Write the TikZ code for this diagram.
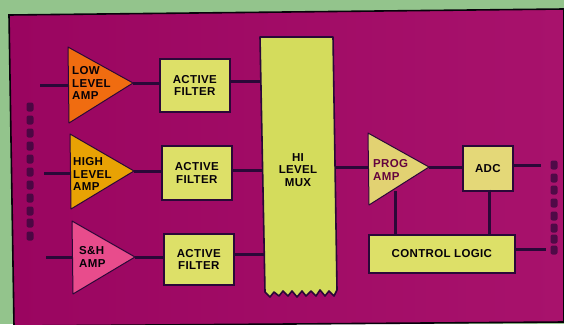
\documentclass[tikz,border=0pt]{standalone}
\usepackage{fontspec}
\setmainfont{Liberation Sans}[LetterSpace=3]
\usetikzlibrary{calc}
\definecolor{bgreen}{HTML}{93C48C}
\definecolor{panelm}{HTML}{9A0560}
\definecolor{panelr}{HTML}{A8126C}
\definecolor{inkd}{HTML}{2A0838}
\definecolor{boxy}{HTML}{DDE068}
\definecolor{muxy}{HTML}{D4DC5C}
\definecolor{adcy}{HTML}{E4D878}
\definecolor{ampo}{HTML}{F06C10}
\definecolor{ampg}{HTML}{E8A204}
\definecolor{ampp}{HTML}{E84C8C}
\definecolor{ampy}{HTML}{E2D272}
\tikzset{
 x=1pt,y=-1pt,
 lab/.style={font=\bfseries\fontsize{11.5}{12.5}\selectfont,text=black!85!inkd,align=center,inner sep=0},
 lablt/.style={lab,align=left},
 amp/.style={draw=inkd,line width=1pt,line join=round},
 boxn/.style={draw=inkd,line width=1.6pt,fill=boxy,lab,minimum width=70pt,minimum height=53pt,anchor=north west,inner sep=0},
 wire/.style={draw=inkd,line width=3pt},
 mark1/.style={draw=none,fill=inkd,opacity=.7,rounded corners=2pt,minimum width=7pt,minimum height=9pt,inner sep=0}
}
\begin{document}
\begin{tikzpicture}
\useasboundingbox (0,0) rectangle (564,324);
\fill[bgreen] (0,0) rectangle (564,324);
\shade[left color=panelm,right color=panelr,draw=black!80!inkd,line width=1.6pt]
  (9,15) -- (564,9) -- (564,322) -- (14,326) -- cycle;

% amplifiers
\coordinate (t1a) at (68,47); \coordinate (t1b) at (69,123); \coordinate (t1c) at (133,83);
\coordinate (t2a) at (70,134); \coordinate (t2b) at (71,209); \coordinate (t2c) at (134,171);
\coordinate (t3a) at (72,221); \coordinate (t3b) at (73,294); \coordinate (t3c) at (135,257);
\coordinate (t4a) at (368,133); \coordinate (t4b) at (369,205); \coordinate (t4c) at (429,167);

% free ends and junction points
\coordinate (mf1) at (262,81); \coordinate (mf2) at (264,170); \coordinate (mf3) at (265,254);
\coordinate (mo) at (335,167);
\coordinate (i1) at (40,85); \coordinate (i2) at (44,173); \coordinate (i3) at (46,257);
\coordinate (o1) at (541,165); \coordinate (o2) at (546,249);
\coordinate (p1) at (395,191); \coordinate (c1) at (395,235);
\coordinate (a1) at (489,189.6); \coordinate (c2) at (489,235);

% filters
\node[boxn] (f1) at (159,58) {ACTIVE\\FILTER};
\node[boxn,minimum height=54pt] (f2) at (161,145) {ACTIVE\\FILTER};
\node[boxn,minimum height=51pt] (f3) at (163,233) {ACTIVE\\FILTER};
\node[draw=inkd,line width=1.6pt,fill=adcy,lab,minimum width=50pt,minimum height=45pt,anchor=north west] (adc) at (462,145) {ADC};
\node[draw=inkd,line width=1.6pt,fill=boxy,lab,minimum width=146pt,minimum height=38pt,anchor=north west] (ctl) at (368,234) {CONTROL LOGIC};

% wires (under the shapes)
\draw[wire] (i1) -- (t1a |- i1);
\draw[wire] (i2) -- (t2a |- i2);
\draw[wire] (i3) -- (t3a |- i3);
\draw[wire] (t1c) -- (f1.west |- t1c);
\draw[wire] (t2c) -- (f2.west |- t2c);
\draw[wire] (t3c) -- (f3.west |- t3c);
\draw[wire] (f1.east |- mf1) -- (mf1);
\draw[wire] (f2.east |- mf2) -- (mf2);
\draw[wire] (f3.east |- mf3) -- (mf3);
\draw[wire] (mo) -- (t4a |- mo);
\draw[wire] (t4c) -- (adc.west |- t4c);
\draw[wire] (adc.east |- o1) -- (o1);
\draw[wire] (p1) -- (c1);
\draw[wire] (a1) -- (c2);
\draw[wire] (ctl.east |- o2) -- (o2);

\fill[amp,fill=ampo] (t1a) -- (t1c) -- (t1b) -- cycle;
\fill[amp,fill=ampg] (t2a) -- (t2c) -- (t2b) -- cycle;
\fill[amp,fill=ampp] (t3a) -- (t3c) -- (t3b) -- cycle;
\fill[amp,fill=ampy] (t4a) -- (t4c) -- (t4b) -- cycle;
\node[lablt,anchor=west] (l1) at (72,83) {LOW\\LEVEL\\AMP};
\node[lablt,anchor=west] (l2) at (73,174) {HIGH\\LEVEL\\AMP};
\node[lablt,anchor=west] (l3) at (79,257) {S\&H\\AMP};
\node[lablt,anchor=west,text=panelm!65!black] (l4) at (373,170) {PROG\\AMP};

% multiplexer
\fill[draw=inkd,line width=1.6pt,fill=muxy,line join=round]
  (260,37) -- (333,37) -- (337,290)
  -- (334,296) -- (329,291) -- (325,296) -- (320,290) -- (316,296) -- (311,291)
  -- (306,296) -- (302,291) -- (297,297) -- (292,291) -- (288,296) -- (283,291)
  -- (279,296) -- (274,292) -- (270,297) -- (265,292) -- cycle;
\node[lab] (mux) at (298,170) {HI\\LEVEL\\MUX};

% side captions are unreadable in the reference: only dark marks survive
\foreach \i/\yy in {1/107,2/120,3/133,4/146,5/159,6/172,7/185,8/198,9/211,10/223,11/236}
  \node[mark1] (s\i) at (30,\yy) {};
\foreach \i/\yy in {1/165,2/178,3/190,4/203,5/216,6/228,7/239,8/250}
  \node[mark1] (r\i) at (554,\yy) {};
\end{tikzpicture}
\end{document}
